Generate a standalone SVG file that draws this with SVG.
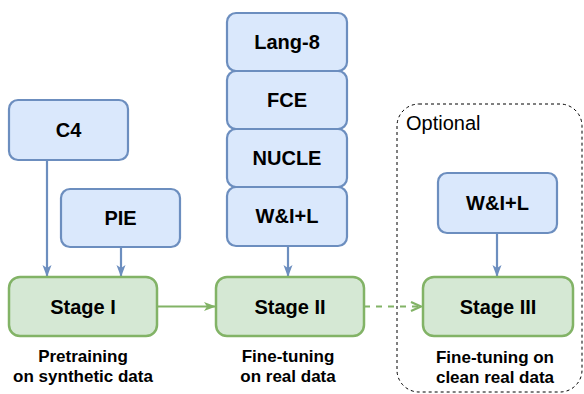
<svg xmlns="http://www.w3.org/2000/svg" width="584" height="394" viewBox="0 0 584 394">
<defs>
<style>
.blue{fill:#dae8fc;stroke:#6c8ebf;stroke-width:2.2}
.green{fill:#d5e8d4;stroke:#82b366;stroke-width:2.5}
.t{font-family:"Liberation Sans",Arial,sans-serif;font-weight:bold;font-size:20px;fill:#000;text-anchor:middle}
.lbl{font-family:"Liberation Sans",Arial,sans-serif;font-weight:bold;font-size:17px;fill:#000;text-anchor:middle}
.cb{stroke:#6c8ebf;stroke-width:2.2;fill:none}
.cg{stroke:#82b366;stroke-width:2.2;fill:none}
</style>
<marker id="ab" viewBox="0 0 12 10" refX="11" refY="5" markerWidth="12" markerHeight="10" markerUnits="userSpaceOnUse" orient="auto">
<path d="M0,0.5 L12,5 L0,9.5 L3,5 Z" fill="#6c8ebf"/>
</marker>
<marker id="ag" viewBox="0 0 12 10" refX="11" refY="5" markerWidth="12" markerHeight="10" markerUnits="userSpaceOnUse" orient="auto">
<path d="M0,0.5 L12,5 L0,9.5 L3,5 Z" fill="#82b366"/>
</marker>
<marker id="ago" viewBox="0 0 12 12" refX="11" refY="6" markerWidth="12" markerHeight="12" markerUnits="userSpaceOnUse" orient="auto">
<path d="M1,1.5 L11,6 L1,10.5" fill="none" stroke="#82b366" stroke-width="2.2"/>
</marker>
</defs>
<g id="optional">
<rect x="397" y="104" width="185" height="288" rx="22" fill="none" stroke="#000" stroke-width="1" stroke-dasharray="3,3"/>
<text x="406" y="130" font-family="'Liberation Sans',Arial,sans-serif" font-size="20" fill="#000">Optional</text>
</g>
<g id="connectors">
<line class="cb" x1="47" y1="160" x2="47" y2="276" marker-end="url(#ab)"/>
<line class="cb" x1="121" y1="247" x2="121" y2="276" marker-end="url(#ab)"/>
<line class="cb" x1="288" y1="246" x2="288" y2="276" marker-end="url(#ab)"/>
<line class="cb" x1="497" y1="233" x2="497" y2="276" marker-end="url(#ab)"/>
<line class="cg" x1="157" y1="306.5" x2="215" y2="306.5" marker-end="url(#ag)"/>
<line class="cg" x1="364" y1="306.5" x2="421" y2="306.5" stroke-dasharray="6,6" marker-end="url(#ago)"/>
</g>
<g id="c4"><rect class="blue" x="9" y="100" width="119" height="60" rx="9"/><text class="t" x="68.5" y="137">C4</text></g>
<g id="pie"><rect class="blue" x="61" y="189" width="119" height="58" rx="9"/><text class="t" x="120.5" y="225">PIE</text></g>
<g id="lang8"><rect class="blue" x="227" y="13" width="120" height="58" rx="9"/><text class="t" x="287" y="49">Lang-8</text></g>
<g id="fce"><rect class="blue" x="227" y="71" width="120" height="58" rx="9"/><text class="t" x="287" y="107">FCE</text></g>
<g id="nucle"><rect class="blue" x="227" y="129" width="120" height="58" rx="9"/><text class="t" x="287" y="165">NUCLE</text></g>
<g id="wil1"><rect class="blue" x="227" y="187" width="120" height="59" rx="9"/><text class="t" x="287" y="223">W&amp;I+L</text></g>
<g id="wil2"><rect class="blue" x="438" y="173" width="119" height="60" rx="9"/><text class="t" x="497.5" y="210">W&amp;I+L</text></g>
<g id="stage1"><rect class="green" x="9" y="277" width="148" height="59" rx="11"/><text class="t" x="83" y="313.5">Stage I</text>
<text class="lbl" x="83" y="362">Pretraining</text><text class="lbl" x="83" y="382">on synthetic data</text></g>
<g id="stage2"><rect class="green" x="216" y="277" width="148" height="59" rx="11"/><text class="t" x="290" y="313.5">Stage II</text>
<text class="lbl" x="288" y="362">Fine-tuning</text><text class="lbl" x="288" y="382">on real data</text></g>
<g id="stage3"><rect class="green" x="423" y="277" width="150" height="59" rx="11"/><text class="t" x="498" y="313.5">Stage III</text>
<text class="lbl" x="495" y="363">Fine-tuning on</text><text class="lbl" x="495" y="383">clean real data</text></g>
</svg>
